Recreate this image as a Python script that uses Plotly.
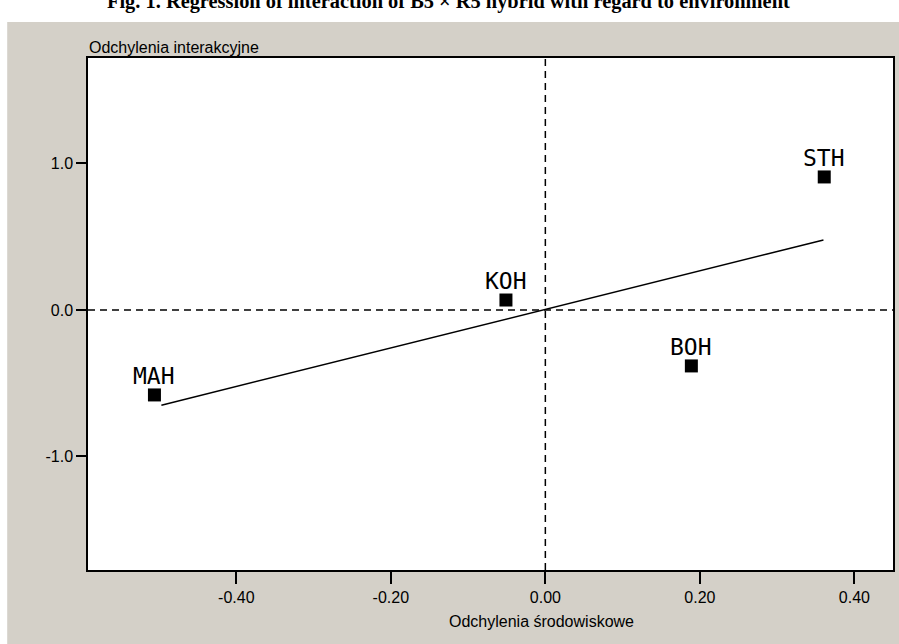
import plotly.graph_objects as go

# Data
labels = ["MAH", "KOH", "BOH", "STH"]
env_dev = [-0.506, -0.051, 0.189, 0.361]
inter_dev = [-0.58, 0.068, -0.382, 0.908]

reg_x = [-0.497, 0.36]
reg_y = [-0.65, 0.478]

x_ticks = [-0.4, -0.2, 0.0, 0.2, 0.4]
x_ticklabels = ["-0.40", "-0.20", "0.00", "0.20", "0.40"]
y_ticks = [-1.0, 0.0, 1.0]
y_ticklabels = ["-1.0", "0.0", "1.0"]

title_text = "Fig. 1. Regression of interaction of B5 × R5 hybrid with regard to environment"
x_title = "Odchylenia środowiskowe"
y_title = "Odchylenia interakcyjne"

FONT = "Liberation Sans, Arial, sans-serif"
MONO = "DejaVu Sans Mono, Liberation Mono, monospace"
GRAY = "#d4d0c8"

fig = go.Figure()

fig.add_trace(go.Scatter(
    x=reg_x, y=reg_y, mode="lines",
    line=dict(color="black", width=1.5),
    hoverinfo="skip", showlegend=False,
))

fig.add_trace(go.Scatter(
    x=env_dev, y=inter_dev, mode="markers",
    text=labels, hoverinfo="text",
    marker=dict(symbol="square", size=13, color="black"),
    showlegend=False,
))

W, H = 899, 644
L, R, T, B = 88, 4, 58, 74
pw, ph = W - L - R, H - T - B

def px_x(p):
    return (p - L) / pw

def px_y(p):
    return (H - B - p) / ph

shapes = [
    dict(type="line", xref="x domain", yref="y", x0=0, x1=1, y0=0, y1=0,
         line=dict(color="black", width=1.5, dash="7px,5px"), layer="below"),
    dict(type="line", xref="x", yref="y domain", x0=0, x1=0, y0=0, y1=1,
         line=dict(color="black", width=1.5, dash="7px,5px"), layer="below"),
    dict(type="rect", xref="paper", yref="paper",
         x0=px_x(-2), x1=px_x(W + 2), y0=px_y(22), y1=px_y(-2),
         fillcolor="white", line=dict(width=0), layer="below"),
    dict(type="rect", xref="paper", yref="paper",
         x0=px_x(-2), x1=px_x(7), y0=px_y(H + 2), y1=px_y(-2),
         fillcolor="white", line=dict(width=0), layer="below"),
]

annotations = [
    dict(text=y_title, xref="paper", yref="paper", x=px_x(87), y=px_y(47),
         xanchor="left", yanchor="middle", showarrow=False,
         font=dict(family=FONT, size=16, color="black")),
    dict(text=x_title, xref="paper", yref="paper", x=px_x(543), y=px_y(621),
         xanchor="center", yanchor="middle", showarrow=False,
         font=dict(family=FONT, size=16, color="black")),
    dict(text="<b>" + title_text + "</b>", xref="paper", yref="paper",
         x=px_x(449), y=px_y(1), xanchor="center", yanchor="middle",
         showarrow=False,
         font=dict(family="Liberation Serif, Times New Roman, serif", size=20.4, color="black")),
]

# point labels, placed above each marker
for lab, xv, yv in zip(labels, env_dev, inter_dev):
    annotations.append(dict(
        text=lab, x=xv, y=yv, xref="x", yref="y",
        xanchor="center", yanchor="middle", yshift=19, showarrow=False,
        font=dict(family=MONO, size=23, color="black"),
    ))

fig.update_layout(
    width=W, height=H,
    margin=dict(l=L, r=R, t=T, b=B, pad=0),
    paper_bgcolor=GRAY, plot_bgcolor="white",
    shapes=shapes, annotations=annotations,
    font=dict(family=FONT, size=16, color="black"),
    xaxis=dict(range=[-0.592, 0.45], tickvals=x_ticks, ticktext=x_ticklabels,
               ticks="outside", ticklen=12, tickwidth=1.5, tickcolor="black",
               showline=True, linecolor="black", linewidth=1.5, mirror=True,
               showgrid=False, zeroline=False,
               tickfont=dict(family=FONT, size=16, color="black")),
    yaxis=dict(range=[-1.775, 1.72], tickvals=y_ticks, ticktext=y_ticklabels,
               ticks="outside", ticklen=10, tickwidth=1.5, tickcolor="black",
               showline=True, linecolor="black", linewidth=1.5, mirror=True,
               showgrid=False, zeroline=False,
               tickfont=dict(family=FONT, size=16, color="black")),
)

fig.write_html(
    "out.html",
    config={"displayModeBar": False},
    post_script="document.body.style.margin='0';document.body.style.overflow='hidden';",
)
